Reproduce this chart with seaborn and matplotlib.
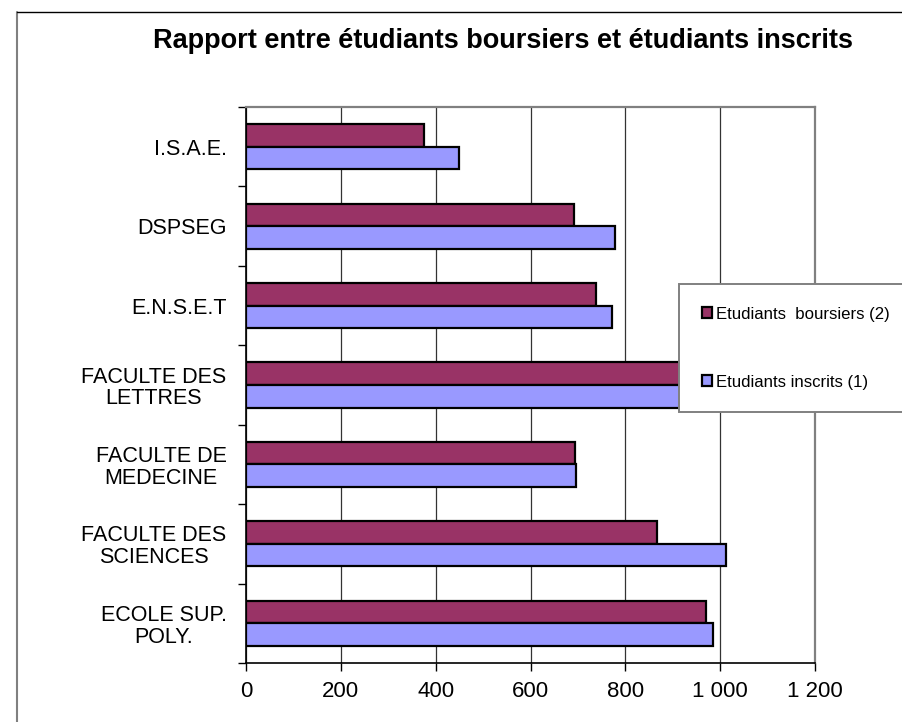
import pandas as pd
import matplotlib.pyplot as plt
import seaborn as sns
import numpy as np
from matplotlib.lines import Line2D

etablissements = ["I.S.A.E.", "DSPSEG", "E.N.S.E.T", "FACULTE DES\nLETTRES",
                  "FACULTE DE\nMEDECINE", "FACULTE DES\nSCIENCES", "ECOLE SUP.\nPOLY."]
boursiers = [376, 691, 738, 990, 693, 866, 970]
inscrits = [449, 779, 772, 1050, 696, 1012, 984]
series = ["Etudiants  boursiers (2)", "Etudiants inscrits (1)"]
couleurs = ["#993366", "#9999FF"]
x_ticks = [0, 200, 400, 600, 800, 1000, 1200]
x_labels = ["0", "200", "400", "600", "800", "1 000", "1 200"]

df = pd.DataFrame({
    "etablissement": etablissements * 2,
    "valeur": boursiers + inscrits,
    "serie": [series[0]] * len(etablissements) + [series[1]] * len(etablissements),
})

sns.set_theme(style="white")
plt.rcParams["font.family"] = ["Liberation Sans", "DejaVu Sans"]
plt.rcParams["text.color"] = "black"

W, H = 903, 722
fig = plt.figure(figsize=(W / 100, H / 100), dpi=100)
ax = fig.add_axes([246 / W, 1 - 663 / H, (815 - 246) / W, (663 - 107) / H])

sns.barplot(data=df, x="valeur", y="etablissement", hue="serie", orient="h",
            order=etablissements, hue_order=series, palette=couleurs,
            width=0.57, saturation=1, edgecolor="black", linewidth=1.6, ax=ax)

ax.set_xlim(0, 1200)
ax.set_ylim(len(etablissements) - 0.5, -0.5)
ax.set_xlabel("")
ax.set_ylabel("")
ax.set_axisbelow(True)
ax.xaxis.grid(True, color="#333333", linewidth=0.9)
ax.yaxis.grid(False)

ax.set_xticks(x_ticks)
ax.set_xticklabels(x_labels, fontsize=16)
ax.tick_params(axis="x", which="major", bottom=True, length=6, width=1,
               color="black", pad=7, labelcolor="black")

ax.set_yticks(range(len(etablissements)))
ax.set_yticklabels(etablissements, fontsize=15.5)
ax.set_yticks(np.arange(-0.5, len(etablissements), 1), minor=True)
ax.tick_params(axis="y", which="major", left=True, length=0, pad=14, labelcolor="black")
ax.tick_params(axis="y", which="minor", left=True, length=6, width=1, color="black")
for lab in ax.get_yticklabels():
    lab.set_ha("right")
    lab.set_multialignment("center")
    lab.set_linespacing(1.05)

for side in ["left", "bottom"]:
    ax.spines[side].set_color("black")
    ax.spines[side].set_linewidth(1.2)
for side in ["top", "right"]:
    ax.spines[side].set_color("#808080")
    ax.spines[side].set_linewidth(1.6)

leg = ax.legend(loc="upper left", bbox_to_anchor=(679 / W, 1 - 284 / H),
                bbox_transform=fig.transFigure, borderaxespad=0, fontsize=12.1,
                frameon=True, fancybox=False, edgecolor="#808080", framealpha=1,
                borderpad=1.35, labelspacing=3.15, handlelength=0.62, handleheight=0.62,
                handletextpad=0.25, labelcolor="black")
leg.get_frame().set_linewidth(1.4)

fig.text(503 / W, 1 - 41 / H, "Rapport entre étudiants boursiers et étudiants inscrits",
         ha="center", va="center", fontsize=19.5, fontweight="bold", color="black")

# cadre extérieur du graphique
fig.add_artist(Line2D([17 / W, 17 / W], [0, 1 - 12 / H], color="#808080", linewidth=1.5,
                      transform=fig.transFigure))
fig.add_artist(Line2D([17 / W, 1], [1 - 12 / H, 1 - 12 / H], color="black", linewidth=1,
                      transform=fig.transFigure))

fig.savefig("out.png", dpi=100, facecolor="white")
